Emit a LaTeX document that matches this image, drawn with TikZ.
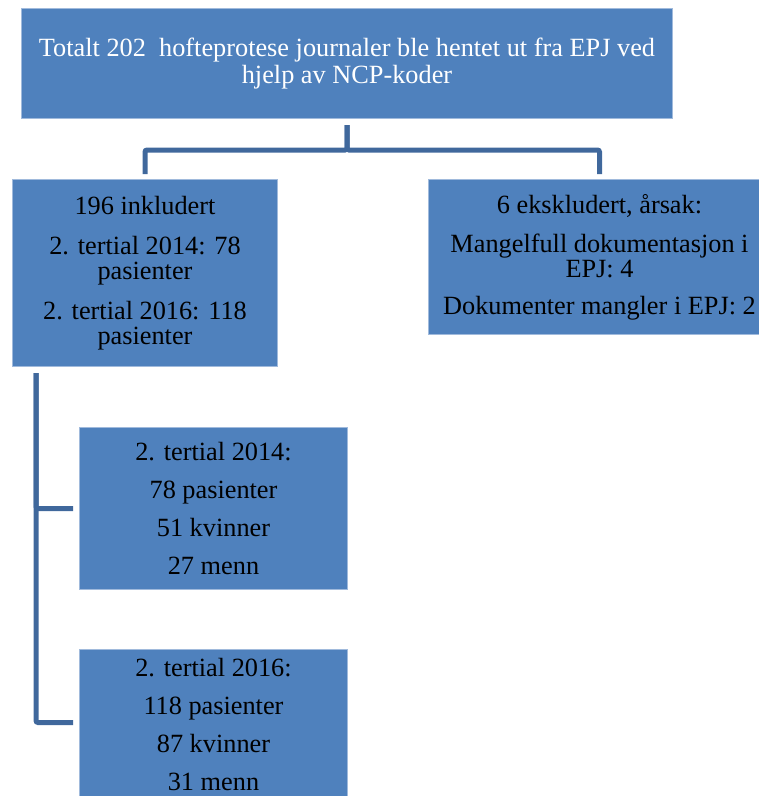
\documentclass[tikz,border=0pt]{standalone}
\usepackage{fontspec}
\setmainfont{Liberation Serif}
\usetikzlibrary{positioning}
\definecolor{boxblue}{RGB}{79,129,189}
\definecolor{boxedge}{RGB}{160,186,220}
\definecolor{linkblue}{RGB}{64,104,156}
\tikzset
{
    box/.style={rectangle, draw=boxedge, line width=1pt, fill=boxblue, align=center, inner sep=2pt, font=\fontsize{26.3}{25}\selectfont},
    head/.style={box, text=white, font=\fontsize{26.3}{27}\selectfont},
    conn/.style={draw=linkblue, line width=5pt, rounded corners=2pt, shorten <=6pt, shorten >=5pt}
}
\begin{document}
\begin{tikzpicture}[x=1pt, y=-1pt]
	\clip (0,0) rectangle (759,796);
	\node (tot) [head, minimum width=651pt, minimum height=110pt, anchor=north west] at (21,8) {Totalt 202~ hofteprotese journaler ble hentet ut fra EPJ ved\\hjelp av NCP-koder};
	\node (inkl) [box, minimum width=265pt, minimum height=187pt, below right=60pt and -9pt of tot.south west] {196 inkludert\\[15pt]2. tertial 2014: 78\\pasienter\\[15pt]2. tertial 2016: 118\\pasienter};
	\node (ekskl) [box, minimum width=342pt, minimum height=155pt, right=150pt of inkl.north east, anchor=north west] {6 ekskludert, årsak:\\[14pt]Mangelfull dokumentasjon i\\EPJ: 4\\[12pt]Dokumenter mangler i EPJ: 2};
	\node (t14) [box, minimum width=268pt, minimum height=162pt, below right=60pt and 67pt of inkl.south west] {2. tertial 2014:\\[13pt]78 pasienter\\[13pt]51 kvinner\\[13pt]27 menn};
	\node (t16) [box, minimum width=268pt, minimum height=150pt, below=59pt of t14.south west, anchor=north west] {2. tertial 2016:\\[13pt]118 pasienter\\[13pt]87 kvinner\\[13pt]31 menn};

	\draw [conn] (tot.south) -- ++(0,31) -| (inkl.north);
	\draw [conn] (tot.south) -- ++(0,31) -| (ekskl.north);
	\draw [conn, shorten >=6pt] ([xshift=24pt]inkl.south west) |- (t14.west);
	\draw [conn, shorten >=6pt] ([xshift=24pt]inkl.south west) |- ([yshift=2pt]t16.west);
\end{tikzpicture}
\end{document}
